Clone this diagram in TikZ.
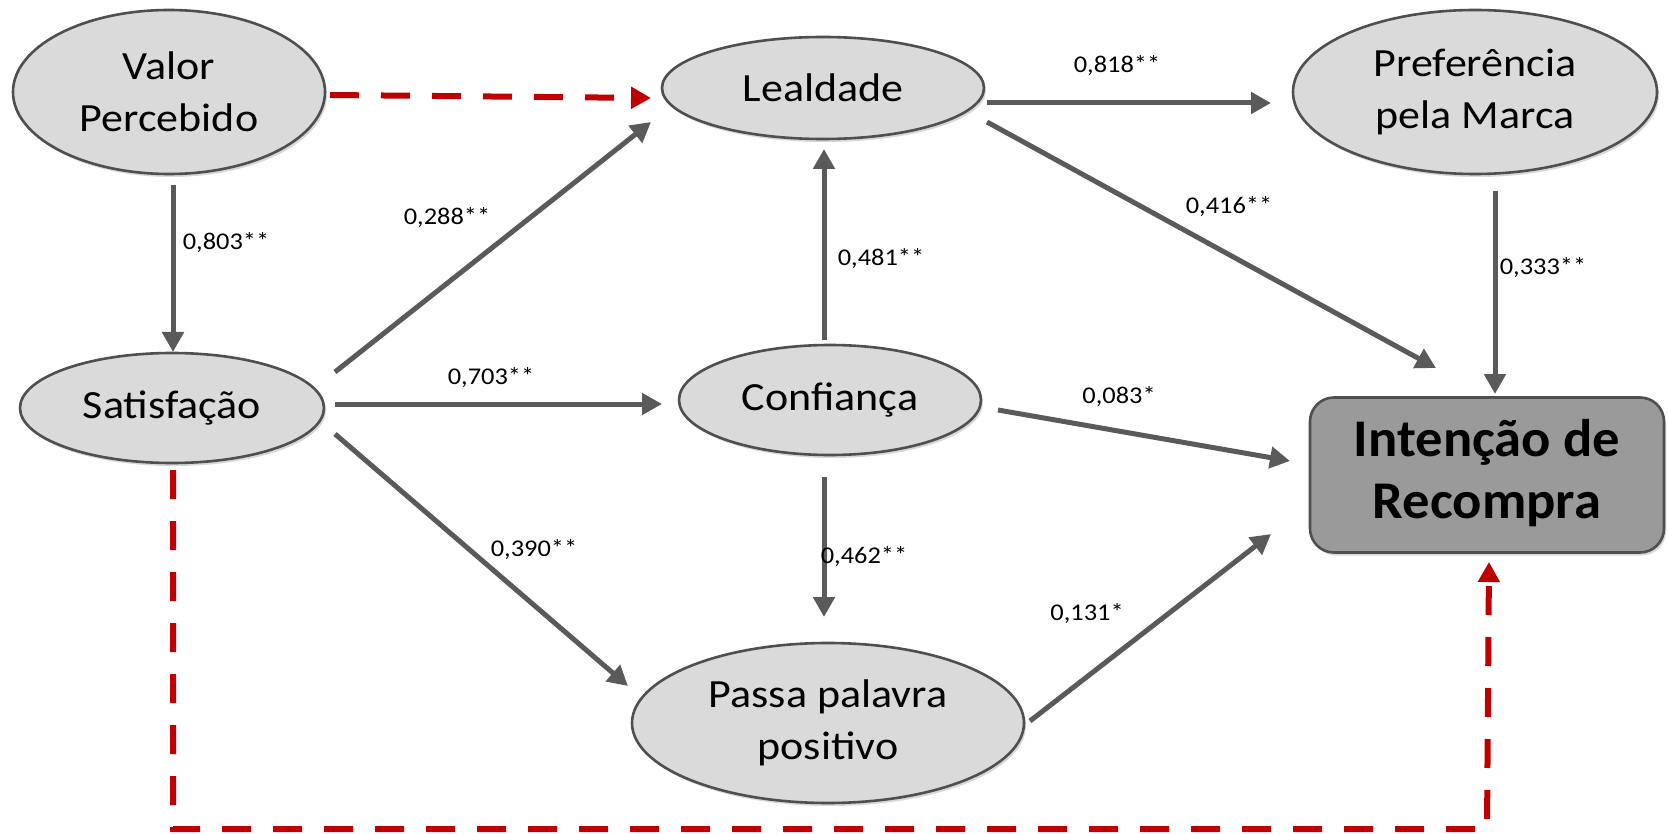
\documentclass[tikz,border=0pt]{standalone}
\usepackage{fontspec}
\setmainfont{Carlito}
\newfontfamily\widefont[FakeStretch=1.1]{Carlito}
\newfontfamily\boxfont[FakeStretch=1.03]{Carlito}
\usetikzlibrary{arrows.meta,calc,shadows,shapes.geometric}
\definecolor{arrgray}{HTML}{5A5A5A}
\definecolor{ellfill}{HTML}{DADADA}
\definecolor{ellline}{HTML}{4F4F4F}
\definecolor{boxfill}{HTML}{9A9A9A}
\definecolor{dred}{HTML}{C00000}
\begin{document}
\begin{tikzpicture}[x=1pt,y=-1pt,
  construct/.style={ellipse,draw=ellline,line width=2.6pt,fill=ellfill,inner sep=0pt,align=center,
    font=\widefont\fontsize{40}{52}\selectfont,
    drop shadow={shadow xshift=2pt,shadow yshift=-3pt,opacity=0.3}},
  target/.style={rectangle,rounded corners=24pt,draw=ellline,line width=2.6pt,fill=boxfill,inner sep=0pt,
    font=\boxfont\fontsize{53}{62}\selectfont\bfseries,
    drop shadow={shadow xshift=2pt,shadow yshift=-3pt,opacity=0.3}},
  path/.style={draw=arrgray,line width=5pt,-{Triangle[length=20pt,width=21pt]}},
  redpath/.style={draw=dred,line width=6pt,dash pattern=on 29pt off 22pt,-{Triangle[length=20pt,width=21pt]}},
  coef/.style={font=\widefont\fontsize{24}{28}\selectfont,inner sep=0pt}
]
\useasboundingbox (0,0) rectangle (1668,834);
\fill[white] (0,0) rectangle (1668,834);

\node[construct,minimum width=312pt,minimum height=164pt] (val) at (169,92) {Valor\\Percebido};
\node[construct,minimum width=304pt,minimum height=110pt] (sat) at (172,408) {Satisfação};
\node[construct,minimum width=322pt,minimum height=102pt] (leal) at (823,88) {Lealdade};
\node[construct,minimum width=302pt,minimum height=110pt] (conf) at (830,400) {Confiança};
\node[construct,minimum width=392pt,minimum height=160pt] (passa) at (828,723) {Passa palavra\\positivo};
\node[construct,minimum width=364pt,minimum height=164pt] (pref) at (1475,92) {Preferência\\pela Marca};
\node[target,minimum width=354pt,minimum height=155pt] (int) at (1487,475) {\raisebox{-8pt}{\begin{tabular}{@{}c@{}}Intenção de\\Recompra\end{tabular}}};

% dashed red paths
\draw[redpath] ($(val.center)+(161,3)$) -- ($(leal.center)+(-172,10)$);
\draw[redpath] ($(sat.center)+(1,62)$) |- ($(int.center)+(0,354)$) coordinate (bend) -- ($(int.center)+(2,87)$);

% solid paths
\draw[path] ($(val.center)+(4,93)$) -- ($(sat.center)+(1,-56)$);
\draw[path] ($(sat.center)+(163,-36)$) -- ($(leal.center)+(-172,34)$);
\draw[path] ($(sat.center)+(163,-4)$) -- ($(conf.center)+(-168,4)$);
\draw[path] ($(sat.center)+(163,26)$) -- ($(passa.center)+(-200,-37)$);
\draw[path] ($(conf.center)+(-6,-60)$) -- ($(leal.center)+(1,61)$);
\draw[path] ($(conf.center)+(-6,77)$) -- ($(passa.center)+(-4,-106)$);
\draw[path] ($(leal.center)+(164,15)$) -- ($(pref.center)+(-204,11)$);
\draw[path] ($(leal.center)+(164,34)$) -- ($(int.center)+(-51,-107)$);
\draw[path] ($(pref.center)+(20,99)$) -- ($(int.center)+(8,-81)$);
\draw[path] ($(conf.center)+(168,10)$) -- ($(int.center)+(-197,-14)$);
\draw[path] ($(passa.center)+(202,-2)$) -- ($(int.center)+(-216,59)$);

% coefficients
\node[coef] (c1) at (226,243) {0,803**};
\node[coef] (c2) at (447,218) {0,288**};
\node[coef] (c3) at (491,378) {0,703**};
\node[coef] (c4) at (534,550) {0,390**};
\node[coef] (c5) at (881,259) {0,481**};
\node[coef] (c6) at (864,557) {0,462**};
\node[coef] (c7) at (1117,66) {0,818**};
\node[coef] (c8) at (1229,207) {0,416**};
\node[coef] (c9) at (1543,268) {0,333**};
\node[coef] (c10) at (1119,397) {0,083*};
\node[coef] (c11) at (1087,614) {0,131*};
\end{tikzpicture}
\end{document}
